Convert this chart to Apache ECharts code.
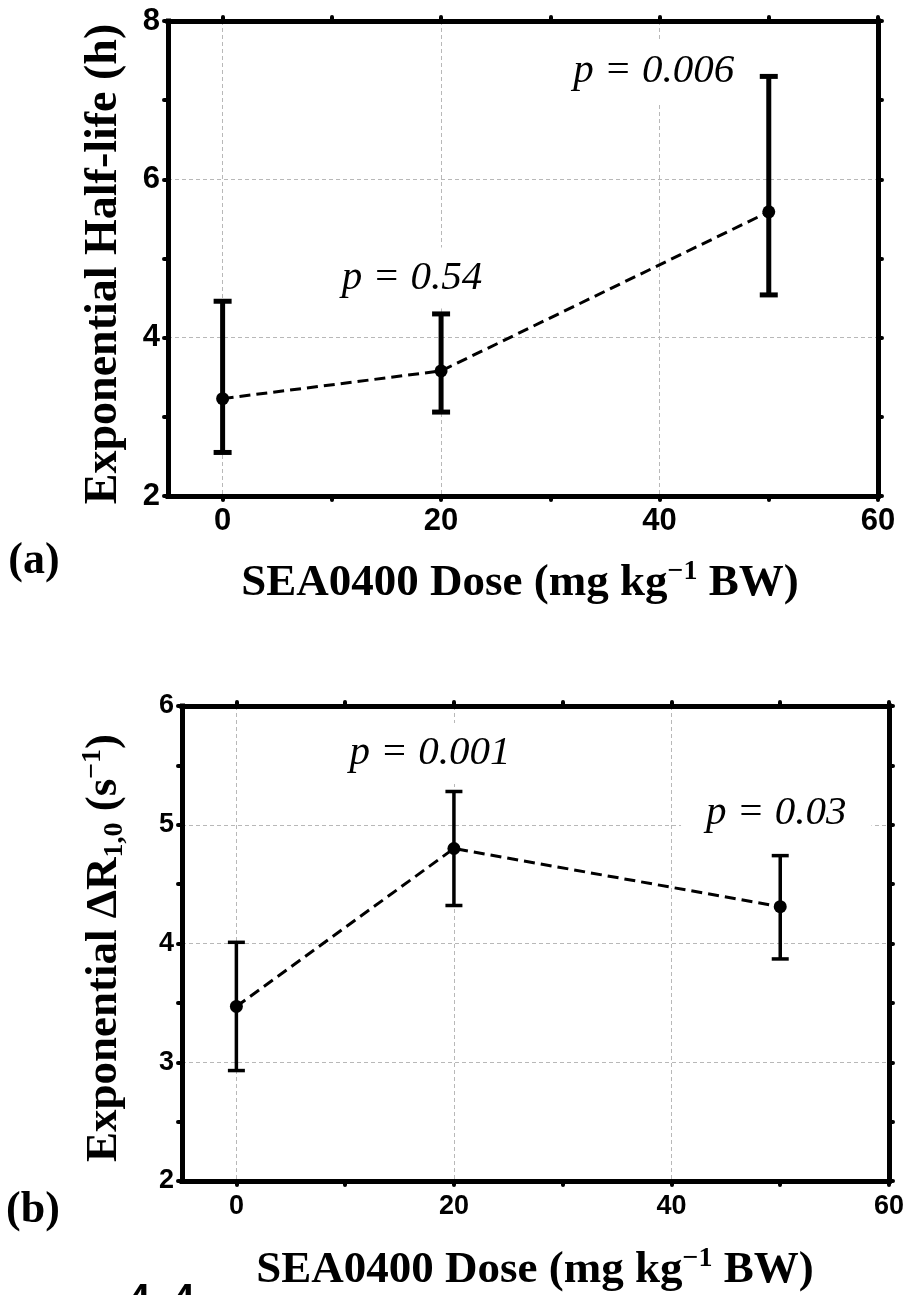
<!DOCTYPE html>
<html><head><meta charset="utf-8">
<script src="https://cdn.jsdelivr.net/npm/echarts@6/dist/echarts.min.js"></script>
<style>html,body{margin:0;padding:0;background:#fff}#c{width:908px;height:1295px}</style>
</head><body><div id="c"></div>
<script>
// ---------- data ----------
const doses = [0, 20, 50];
// panel (a): exponential half-life (h)
const halfLifeMean = [3.23, 3.58, 5.59];
const halfLifeLow  = [2.55, 3.06, 4.54];
const halfLifeHigh = [4.46, 4.30, 7.30];
// panel (b): exponential ΔR1,0 (s^-1)
const dR10Mean = [3.47, 4.80, 4.31];
const dR10Low  = [2.93, 4.32, 3.87];
const dR10High = [4.01, 5.28, 4.74];
// axis ticks / labels
const xTickValues  = [0, 10, 20, 30, 40, 50, 60];
const xLabelValues = [0, 20, 40, 60];
const xGridValues  = [0, 20, 40];
// p-value annotations (attached to dose groups)
const pDoseA = [20, 50];
const pTextA = ['p = 0.54', 'p = 0.006'];
const pDoseB = [20, 50];
const pTextB = ['p = 0.001', 'p = 0.03'];

// ---------- styles / layout ----------
const SERIF = '"Liberation Serif", "Times New Roman", serif';
const SANS = '"Liberation Sans", Arial, sans-serif';
const pOffsetA = [[-29, -36], [-115, -5]];
const pOffsetB = [[-24, -38], [-4, -42]];

const frameLine = {show: true, onZero: false, lineStyle: {color: '#000', width: 5, cap: 'square'}};
const tickStyle = {color: '#000', width: 4, cap: 'round'};
const gridLine = {show: true, lineStyle: {color: '#b8b8b8', width: 1, type: [4, 3]}};
const tickLabel = (size) => ({color: '#000', fontFamily: SANS, fontWeight: 'bold', fontSize: size});

function xAxes(g, fontSize, margin) {
  const c = {type: 'value', gridIndex: g, min: -5, max: 60};
  return [
    Object.assign({}, c, {position: 'bottom', axisLine: frameLine,
      axisTick: {show: true, inside: false, length: 4, customValues: xTickValues, lineStyle: tickStyle},
      axisLabel: Object.assign({show: true, customValues: xLabelValues, margin: margin}, tickLabel(fontSize)),
      splitLine: {show: false}}),
    Object.assign({}, c, {position: 'top', axisLine: frameLine,
      axisTick: {show: true, inside: false, length: 4, customValues: xTickValues, lineStyle: tickStyle},
      axisLabel: {show: false}, splitLine: {show: false}}),
    Object.assign({}, c, {position: 'bottom', axisLine: {show: false},
      axisTick: {show: false, customValues: xGridValues},
      axisLabel: {show: false}, splitLine: gridLine})
  ];
}
function yAxes(g, min, max, interval, fontSize) {
  const c = {type: 'value', gridIndex: g, min: min, max: max, interval: interval};
  const ticks = {show: true, inside: false, length: 4, lineStyle: tickStyle};
  const minor = {show: true, splitNumber: 2, length: 4, lineStyle: tickStyle};
  return [
    Object.assign({}, c, {position: 'left', axisLine: frameLine, axisTick: ticks, minorTick: minor,
      axisLabel: Object.assign({show: true, margin: 8}, tickLabel(fontSize)),
      splitLine: gridLine, minorSplitLine: {show: false}}),
    Object.assign({}, c, {position: 'right', axisLine: frameLine, axisTick: ticks, minorTick: minor,
      axisLabel: {show: false}, splitLine: {show: false}, minorSplitLine: {show: false}})
  ];
}
function errorBars(capW, lw) {
  return function (params, api) {
    const x = api.value(0);
    const lo = api.coord([x, api.value(1)]);
    const hi = api.coord([x, api.value(2)]);
    const h = capW / 2;
    const st = {stroke: '#000', lineWidth: lw, lineCap: 'butt'};
    return {type: 'group', children: [
      {type: 'line', shape: {x1: lo[0], y1: lo[1], x2: hi[0], y2: hi[1]}, style: st},
      {type: 'line', shape: {x1: lo[0] - h, y1: lo[1], x2: lo[0] + h, y2: lo[1]}, style: st},
      {type: 'line', shape: {x1: hi[0] - h, y1: hi[1], x2: hi[0] + h, y2: hi[1]}, style: st}
    ]};
  };
}
function pLabels(texts, offsets) {
  return function (params, api) {
    const p = api.coord([api.value(0), api.value(1)]);
    const o = offsets[params.dataIndex];
    return {type: 'text', x: p[0] + o[0], y: p[1] + o[1], style: {
      text: texts[params.dataIndex], font: 'italic 41px ' + SERIF, fill: '#000',
      align: 'center', verticalAlign: 'middle', backgroundColor: '#fff', padding: [10, 25]}};
  };
}
const meanLine = (xi, yi, ys) => ({type: 'line', xAxisIndex: xi, yAxisIndex: yi, silent: true,
  data: doses.map((d, i) => [d, ys[i]]), symbol: 'circle', symbolSize: 13,
  itemStyle: {color: '#000'}, lineStyle: {color: '#000', width: 3, type: [11, 6]}, z: 7});

const titleRich = {
  b: {fontFamily: SERIF, fontWeight: 'bold', fontSize: 45, lineHeight: 50, fill: '#000'},
  sup: {fontFamily: SERIF, fontWeight: 'bold', fontSize: 28, lineHeight: 36, verticalAlign: 'top', fill: '#000'},
  sub: {fontFamily: SERIF, fontWeight: 'bold', fontSize: 28, lineHeight: 24, verticalAlign: 'bottom', fill: '#000'}
};

const chart = echarts.init(document.getElementById('c'), null, {renderer: 'canvas'});
chart.setOption({
  animation: false,
  backgroundColor: '#fff',
  grid: [
    {left: 168, right: 30, top: 21, height: 475, containLabel: false, outerBoundsMode: 'none'},
    {left: 182, right: 19, top: 706, height: 475, containLabel: false, outerBoundsMode: 'none'}
  ],
  xAxis: xAxes(0, 31, 10).concat(xAxes(1, 27, 12)),
  yAxis: yAxes(0, 2, 8, 2, 31).concat(yAxes(1, 2, 6, 1, 27)),
  series: [
    {type: 'custom', xAxisIndex: 0, yAxisIndex: 0, silent: true, z: 6,
      data: doses.map((d, i) => [d, halfLifeLow[i], halfLifeHigh[i]]),
      encode: {x: 0, y: [1, 2]}, renderItem: errorBars(18, 5)},
    meanLine(0, 0, halfLifeMean),
    {type: 'custom', xAxisIndex: 0, yAxisIndex: 0, silent: true, z: 4,
      data: pDoseA.map(d => [d, halfLifeHigh[doses.indexOf(d)]]),
      encode: {x: 0, y: 1}, renderItem: pLabels(pTextA, pOffsetA)},

    {type: 'custom', xAxisIndex: 3, yAxisIndex: 2, silent: true, z: 6,
      data: doses.map((d, i) => [d, dR10Low[i], dR10High[i]]),
      encode: {x: 0, y: [1, 2]}, renderItem: errorBars(17, 3.5)},
    meanLine(3, 2, dR10Mean),
    {type: 'custom', xAxisIndex: 3, yAxisIndex: 2, silent: true, z: 4,
      data: pDoseB.map(d => [d, dR10High[doses.indexOf(d)]]),
      encode: {x: 0, y: 1}, renderItem: pLabels(pTextB, pOffsetB)}
  ],
  graphic: [
    {type: 'text', x: 104, y: 264, rotation: Math.PI / 2, style: {
      text: 'Exponential Half-life (h)', font: 'bold 46px ' + SERIF, fill: '#000', align: 'center', verticalAlign: 'middle'}},
    {type: 'text', x: 520, y: 583, style: {
      text: '{b|SEA0400 Dose (mg kg}{sup|\u22121}{b| BW)}', rich: titleRich, align: 'center', verticalAlign: 'middle'}},
    {type: 'text', x: 34, y: 562, style: {
      text: '(a)', font: 'bold 44px ' + SERIF, fill: '#000', align: 'center', verticalAlign: 'middle'}},
    {type: 'text', x: 104, y: 948, rotation: Math.PI / 2, style: {
      text: '{b|Exponential \u0394R}{sub|1,0}{b| (s}{sup|\u22121}{b|)}', rich: titleRich, align: 'center', verticalAlign: 'middle'}},
    {type: 'text', x: 535, y: 1270, style: {
      text: '{b|SEA0400 Dose (mg kg}{sup|\u22121}{b| BW)}', rich: titleRich, align: 'center', verticalAlign: 'middle'}},
    {type: 'text', x: 33, y: 1211, style: {
      text: '(b)', font: 'bold 44px ' + SERIF, fill: '#000', align: 'center', verticalAlign: 'middle'}},
    {type: 'text', x: 128, y: 1301, style: {
      text: '4. 4', font: 'bold 40px ' + SANS, fill: '#000', align: 'left', verticalAlign: 'middle'}}
  ]
});
</script>
</body></html>
